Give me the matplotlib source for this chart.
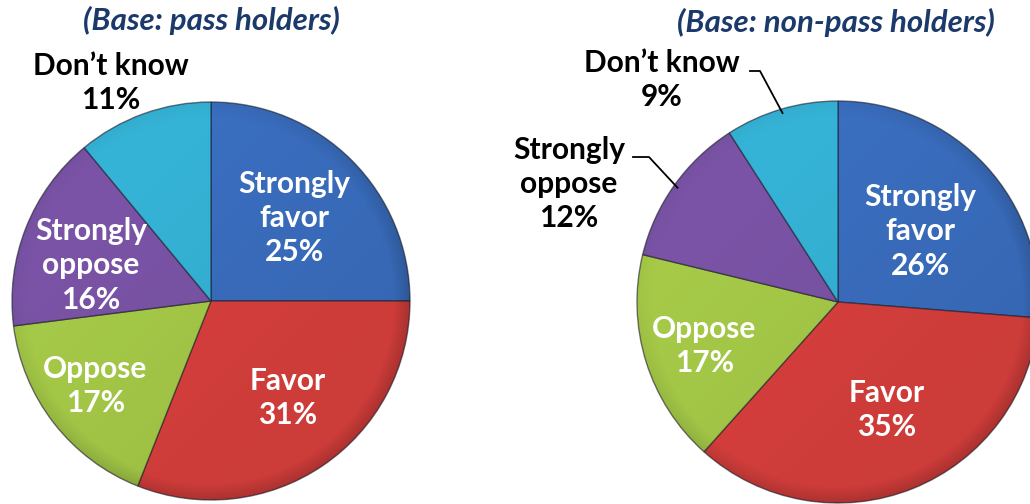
import numpy as np
import matplotlib
matplotlib.use('Agg')
import matplotlib.pyplot as plt
from matplotlib.patches import Circle

plt.rcParams['font.family'] = ['Lato', 'DejaVu Sans']

categories = ['Strongly\nfavor', 'Favor', 'Oppose', 'Strongly\noppose', 'Don\u2019t know']
pass_holders = [25, 31, 17, 16, 11]
non_pass_holders = [26, 35, 17, 12, 9]
titles = ['(Base: pass holders)', '(Base: non-pass holders)']

colors = ['#3a6ebf', '#d9403d', '#a6ca48', '#7a53a6', '#35b3d6']

W, H = 1030, 504
FS = 21.5
LS = 1.28
fig = plt.figure(figsize=(W / 100, H / 100), dpi=100)
ax = fig.add_axes([0, 0, 1, 1])


def draw_pie(values, title, cx, cy, r, label_r, label_da, outside, title_xy):
    center = (cx, H - cy)
    wedges, _ = ax.pie(values, colors=colors, startangle=90, counterclock=False,
                       center=center, radius=r, frame=True,
                       wedgeprops=dict(edgecolor=(0.12, 0.12, 0.18, 0.6), linewidth=1.0))

    # soft shading: darker rim towards the bottom right, clipped to the pie
    n = 400
    xs = np.linspace(-1, 1, n)
    gx, gy = np.meshgrid(xs, xs)
    rr = np.hypot(gx, gy)
    ext = (center[0] - r, center[0] + r, center[1] - r, center[1] + r)
    shade = np.zeros((n, n, 4))
    rim = np.clip((rr - 0.92) / 0.08, 0, 1)
    side = np.clip((gx - gy) / 2 + 0.5, 0, 1)
    shade[..., 3] = 0.12 * rim * (0.3 + side) + 0.06 * side
    img = ax.imshow(shade, extent=ext, origin='lower', zorder=3, interpolation='bilinear')
    img.set_clip_path(Circle(center, r, transform=ax.transData))

    for w, cat, v, lr, da in zip(wedges, categories, values, label_r, label_da):
        mid = np.deg2rad((w.theta1 + w.theta2) / 2)
        text = f'{cat}\n{v}%'
        if cat in outside:
            tx, ty, knee = outside[cat]
            ax.text(tx, H - ty, text, ha='center', va='center', fontsize=FS,
                    fontweight='bold', color='black', linespacing=LS, zorder=5)
            if knee is not None:
                ex = center[0] + 0.98 * r * np.cos(mid)
                ey = center[1] + 0.98 * r * np.sin(mid)
                k0, k1, ky = knee
                ax.plot([k0, k1, ex], [H - ky, H - ky, ey], color='black', lw=1.3, zorder=5)
        else:
            ang = mid - np.deg2rad(da)
            lx = center[0] + lr * r * np.cos(ang)
            ly = center[1] + lr * r * np.sin(ang)
            ax.text(lx, ly, text, ha='center', va='center', fontsize=FS,
                    fontweight='bold', color='white', linespacing=LS, zorder=5)

    ax.text(title_xy[0], H - title_xy[1], title, ha='center', va='center',
            fontsize=22.5, fontweight='bold', fontstyle='italic', color='#1b3a6b', zorder=5)


# left pie: pass holders
draw_pie(pass_holders, titles[0], 211, 301, 199,
         [0.59, 0.62, 0.72, 0.63, 1.0], [0, -4, 1.5, -5, 0],
         {'Don\u2019t know': (111, 83, None)}, (211, 20))

# right pie: non-pass holders
draw_pie(non_pass_holders, titles[1], 838, 302, 201,
         [0.54, 0.59, 0.70, 1.0, 1.0], [2, -2.5, -1, 0, 0],
         {'Strongly\noppose': (569, 184, (633, 649, 157)),
          'Don\u2019t know': (662, 80, (750, 760, 71))}, (836, 22))

ax.set_xlim(0, W)
ax.set_ylim(0, H)
ax.set_aspect('equal')
ax.axis('off')

fig.savefig('out.png', dpi=100)
